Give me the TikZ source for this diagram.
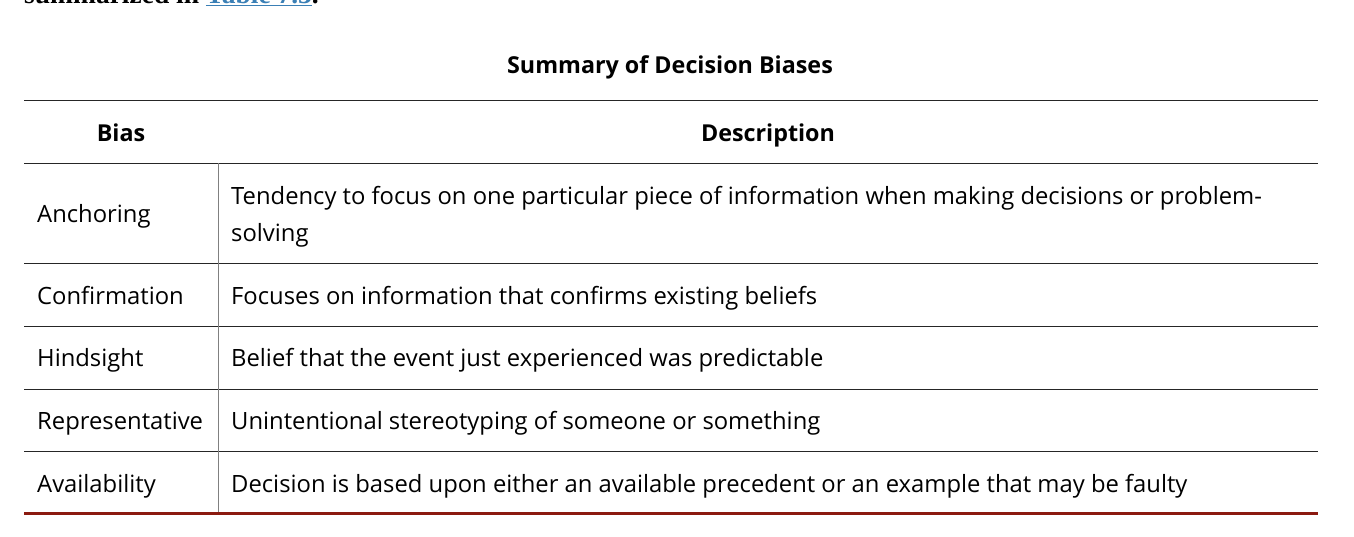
\documentclass[tikz,border=0pt]{standalone}
\usepackage{fontspec}
\setmainfont{Open Sans}
\newfontfamily\slabfont{Liberation Serif}
\definecolor{rulered}{HTML}{8B1A10}
\definecolor{linkblue}{HTML}{3A7FB5}
\begin{document}
\begin{tikzpicture}[x=1pt,y=-1pt,
  cell/.style={anchor=base west,font=\fontsize{23.8}{30}\selectfont,inner sep=0pt},
  head/.style={anchor=base,font=\bfseries\fontsize{23.3}{30}\selectfont,inner sep=0pt},
  hline/.style={line width=1pt,black!85}]
\useasboundingbox (0,0) rectangle (1354,536);
\begin{scope}
\clip (0,0) rectangle (1354,536);
\node[anchor=base west,inner sep=0pt,font=\slabfont\bfseries\fontsize{27.5}{30}\selectfont] (top) at (24,3) {summarized in \textcolor{linkblue}{\underline{Table 7.3}}.};
\end{scope}
\node[head] (title) at (670,73) {Summary of Decision Biases};
\draw[hline] (24,100) -- (1318,100);
\node[head] (hb) at (121,141) {Bias};
\node[head] (hd) at (768,141) {Description};
\draw[hline] (24,163) -- (1318,163);
\node[cell] (a1) at (37,222) {Anchoring};
\node[cell] (a2) at (231,204) {Tendency to focus on one particular piece of information when making decisions or problem-};
\node[cell] (a3) at (231,241) {solving};
\draw[hline] (24,263) -- (1318,263);
\node[cell] (b1) at (37,304) {Confirmation};
\node[cell] (b2) at (231,304) {Focuses on information that confirms existing beliefs};
\draw[hline] (24,326) -- (1318,326);
\node[cell] (c1) at (37,366) {Hindsight};
\node[cell] (c2) at (231,366) {Belief that the event just experienced was predictable};
\draw[hline] (24,389) -- (1318,389);
\node[cell] (d1) at (37,429) {Representative};
\node[cell] (d2) at (231,429) {Unintentional stereotyping of someone or something};
\draw[hline] (24,451) -- (1318,451);
\node[cell] (e1) at (37,492) {Availability};
\node[cell] (e2) at (231,492) {Decision is based upon either an available precedent or an example that may be faulty};
\draw[line width=0.8pt,black!50] (218,163) -- (218,513);
\draw[line width=3pt,rulered] (24,513) -- (1318,513);
\end{tikzpicture}
\end{document}
